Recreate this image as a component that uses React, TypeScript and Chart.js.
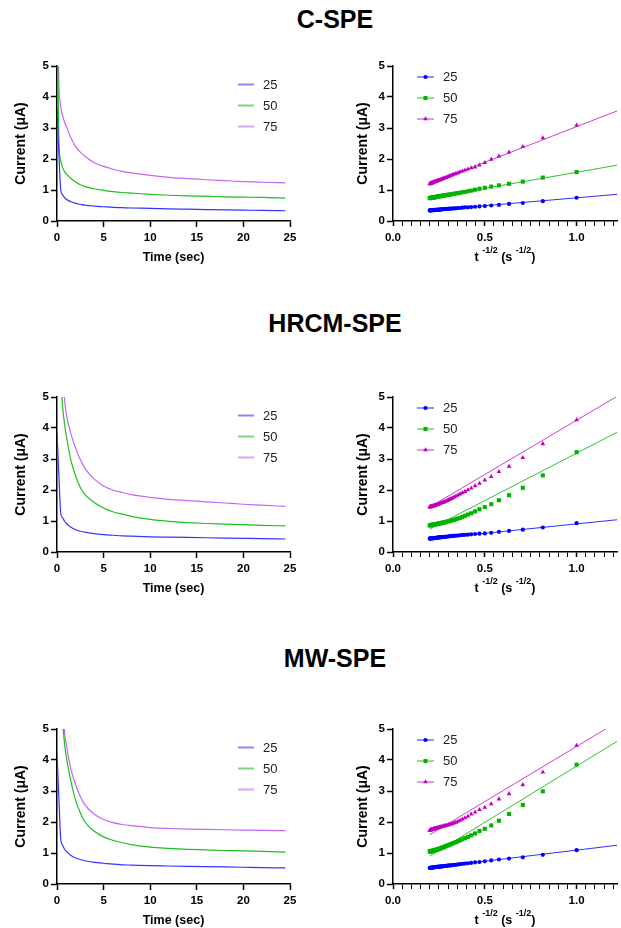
import React, { useEffect, useRef } from 'react';
import { Chart, registerables } from 'chart.js';

Chart.register(...registerables);

const FONT = '"Liberation Sans", Arial, Helvetica, sans-serif';

const panelTitles = ['C-SPE', 'HRCM-SPE', 'MW-SPE'];
const seriesLabels = ['25', '50', '75'];
const yTicks = [0, 1, 2, 3, 4, 5];

// ---------- left panels: current vs time ----------
const timeGrid = [0, 0.2, 0.4, 0.6, 0.8, 1, 1.5, 2, 2.5, 3, 4, 5, 6, 7, 8, 10, 12, 14, 16, 18, 20, 22, 24.5];

const cspeDecay25 = [3.6, 2.2, 1.0, 0.84, 0.76, 0.7, 0.62, 0.57, 0.54, 0.51, 0.48, 0.46, 0.44, 0.43, 0.42, 0.41, 0.39, 0.38, 0.37, 0.36, 0.35, 0.34, 0.33];
const cspeDecay50 = [7.0, 2.6, 1.95, 1.72, 1.6, 1.52, 1.37, 1.26, 1.17, 1.11, 1.04, 0.99, 0.95, 0.92, 0.9, 0.86, 0.83, 0.81, 0.8, 0.78, 0.77, 0.76, 0.74];
const cspeDecay75 = [7.5, 4.4, 3.7, 3.4, 3.2, 3.05, 2.68, 2.4, 2.22, 2.09, 1.88, 1.76, 1.67, 1.6, 1.55, 1.47, 1.41, 1.37, 1.33, 1.3, 1.27, 1.25, 1.23];

const hrcmDecay25 = [3.85, 2.5, 1.25, 1.1, 1.0, 0.92, 0.8, 0.72, 0.67, 0.64, 0.59, 0.56, 0.54, 0.52, 0.51, 0.49, 0.48, 0.47, 0.46, 0.45, 0.44, 0.43, 0.42];
const hrcmDecay50 = [9, 7, 5.6, 4.7, 4.15, 3.75, 2.95, 2.45, 2.08, 1.85, 1.6, 1.42, 1.3, 1.22, 1.15, 1.05, 0.99, 0.95, 0.92, 0.9, 0.88, 0.86, 0.84];
const hrcmDecay75 = [12, 9.5, 7.5, 6.0, 4.95, 4.45, 3.8, 3.35, 2.98, 2.7, 2.35, 2.13, 2.0, 1.92, 1.85, 1.76, 1.7, 1.66, 1.62, 1.58, 1.54, 1.51, 1.47];

const mwDecay25 = [4.2, 2.8, 1.45, 1.25, 1.13, 1.05, 0.92, 0.84, 0.79, 0.75, 0.7, 0.67, 0.64, 0.62, 0.61, 0.59, 0.58, 0.57, 0.56, 0.55, 0.54, 0.53, 0.52];
const mwDecay50 = [11, 8.5, 6.6, 5.3, 4.55, 4.1, 3.3, 2.7, 2.3, 2.0, 1.7, 1.52, 1.41, 1.33, 1.27, 1.19, 1.15, 1.12, 1.1, 1.08, 1.07, 1.05, 1.03];
const mwDecay75 = [13, 10, 8, 6.3, 4.95, 4.5, 3.7, 3.2, 2.82, 2.55, 2.25, 2.08, 1.98, 1.92, 1.88, 1.82, 1.79, 1.77, 1.76, 1.75, 1.74, 1.73, 1.72];

// ---------- right panels: current vs t^-1/2 ----------
const invSqrtTime = [1.0, 0.816, 0.707, 0.632, 0.577, 0.535, 0.5, 0.471, 0.447, 0.426, 0.408, 0.392, 0.378, 0.365, 0.354, 0.343, 0.333, 0.324, 0.316, 0.309, 0.302, 0.295, 0.289, 0.283, 0.277, 0.272, 0.267, 0.263, 0.258, 0.254, 0.25, 0.246, 0.243, 0.239, 0.236, 0.232, 0.229, 0.226, 0.224, 0.221, 0.218, 0.216, 0.213, 0.211, 0.209, 0.206, 0.204, 0.202, 0.2];

const cspeRoot25 = [0.75, 0.64, 0.58, 0.55, 0.52, 0.5, 0.48, 0.47, 0.46, 0.45, 0.44, 0.44, 0.43, 0.42, 0.42, 0.41, 0.41, 0.4, 0.4, 0.4, 0.39, 0.39, 0.39, 0.38, 0.38, 0.38, 0.38, 0.37, 0.37, 0.37, 0.37, 0.37, 0.36, 0.36, 0.36, 0.36, 0.36, 0.36, 0.35, 0.35, 0.35, 0.35, 0.35, 0.35, 0.35, 0.34, 0.34, 0.34, 0.34];
const cspeRoot50 = [1.58, 1.4, 1.27, 1.2, 1.15, 1.11, 1.07, 1.04, 1.01, 0.98, 0.96, 0.94, 0.93, 0.91, 0.9, 0.89, 0.88, 0.87, 0.86, 0.85, 0.85, 0.84, 0.83, 0.83, 0.82, 0.82, 0.81, 0.81, 0.8, 0.8, 0.79, 0.79, 0.79, 0.78, 0.78, 0.77, 0.77, 0.77, 0.76, 0.76, 0.76, 0.76, 0.75, 0.75, 0.75, 0.75, 0.74, 0.74, 0.74];
const cspeRoot75 = [3.09, 2.68, 2.4, 2.22, 2.09, 1.99, 1.88, 1.8, 1.74, 1.71, 1.67, 1.64, 1.61, 1.58, 1.55, 1.53, 1.51, 1.49, 1.47, 1.45, 1.43, 1.42, 1.4, 1.39, 1.38, 1.37, 1.35, 1.34, 1.33, 1.32, 1.32, 1.31, 1.3, 1.29, 1.28, 1.27, 1.27, 1.26, 1.26, 1.25, 1.24, 1.24, 1.23, 1.23, 1.22, 1.21, 1.21, 1.2, 1.2];

const hrcmRoot25 = [0.93, 0.79, 0.72, 0.68, 0.65, 0.62, 0.6, 0.59, 0.58, 0.57, 0.56, 0.55, 0.55, 0.54, 0.53, 0.53, 0.52, 0.52, 0.51, 0.51, 0.5, 0.5, 0.49, 0.49, 0.49, 0.48, 0.48, 0.48, 0.47, 0.47, 0.47, 0.47, 0.46, 0.46, 0.46, 0.46, 0.45, 0.45, 0.45, 0.45, 0.45, 0.44, 0.44, 0.44, 0.44, 0.44, 0.44, 0.43, 0.43];
const hrcmRoot50 = [3.22, 2.47, 2.07, 1.83, 1.67, 1.54, 1.45, 1.38, 1.31, 1.25, 1.21, 1.17, 1.13, 1.1, 1.08, 1.06, 1.04, 1.03, 1.01, 1.0, 0.99, 0.98, 0.97, 0.96, 0.95, 0.95, 0.94, 0.93, 0.93, 0.92, 0.92, 0.91, 0.91, 0.9, 0.9, 0.9, 0.89, 0.89, 0.89, 0.88, 0.88, 0.88, 0.88, 0.87, 0.87, 0.87, 0.87, 0.86, 0.86];
const hrcmRoot75 = [4.26, 3.49, 3.04, 2.76, 2.59, 2.43, 2.32, 2.21, 2.13, 2.06, 2.0, 1.95, 1.91, 1.87, 1.83, 1.8, 1.77, 1.74, 1.72, 1.7, 1.68, 1.66, 1.64, 1.63, 1.61, 1.6, 1.59, 1.58, 1.57, 1.56, 1.55, 1.54, 1.53, 1.52, 1.52, 1.51, 1.5, 1.5, 1.49, 1.49, 1.48, 1.48, 1.47, 1.47, 1.47, 1.46, 1.46, 1.45, 1.45];

const mwRoot25 = [1.09, 0.94, 0.86, 0.82, 0.79, 0.76, 0.73, 0.71, 0.7, 0.68, 0.67, 0.66, 0.65, 0.64, 0.63, 0.62, 0.62, 0.61, 0.6, 0.6, 0.59, 0.59, 0.58, 0.58, 0.58, 0.57, 0.57, 0.57, 0.56, 0.56, 0.56, 0.55, 0.55, 0.55, 0.55, 0.54, 0.54, 0.54, 0.54, 0.54, 0.53, 0.53, 0.53, 0.53, 0.53, 0.52, 0.52, 0.52, 0.52];
const mwRoot50 = [3.85, 2.99, 2.55, 2.26, 2.04, 1.89, 1.78, 1.71, 1.63, 1.57, 1.52, 1.48, 1.44, 1.41, 1.38, 1.35, 1.33, 1.31, 1.29, 1.27, 1.25, 1.24, 1.22, 1.21, 1.19, 1.18, 1.17, 1.16, 1.15, 1.14, 1.13, 1.12, 1.12, 1.11, 1.1, 1.1, 1.09, 1.09, 1.08, 1.08, 1.07, 1.07, 1.07, 1.06, 1.06, 1.06, 1.05, 1.05, 1.05];
const mwRoot75 = [4.47, 3.61, 3.2, 2.91, 2.74, 2.58, 2.47, 2.4, 2.32, 2.25, 2.18, 2.13, 2.09, 2.05, 2.02, 1.99, 1.97, 1.95, 1.93, 1.92, 1.91, 1.9, 1.89, 1.88, 1.87, 1.86, 1.85, 1.84, 1.84, 1.83, 1.82, 1.82, 1.81, 1.8, 1.8, 1.79, 1.79, 1.78, 1.78, 1.77, 1.77, 1.76, 1.76, 1.75, 1.75, 1.74, 1.74, 1.73, 1.73];

// linear fits: values at the two ends fitX
const fitX = [0.2, 1.22];
const cspeFit25 = [0.34, 0.86];
const cspeFit50 = [0.74, 1.8];
const cspeFit75 = [1.2, 3.55];
const hrcmFit25 = [0.42, 1.04];
const hrcmFit50 = [0.74, 3.86];
const hrcmFit75 = [1.45, 5.02];
const mwFit25 = [0.52, 1.25];
const mwFit50 = [0.9, 4.6];
const mwFit75 = [1.59, 5.22];

const decaySets = [
  [cspeDecay25, cspeDecay50, cspeDecay75],
  [hrcmDecay25, hrcmDecay50, hrcmDecay75],
  [mwDecay25, mwDecay50, mwDecay75],
];
const rootSets = [
  [cspeRoot25, cspeRoot50, cspeRoot75],
  [hrcmRoot25, hrcmRoot50, hrcmRoot75],
  [mwRoot25, mwRoot50, mwRoot75],
];
const fitSets = [
  [cspeFit25, cspeFit50, cspeFit75],
  [hrcmFit25, hrcmFit50, hrcmFit75],
  [mwFit25, mwFit50, mwFit75],
];

const decayColors = ['#3535ff', '#1fbf1f', '#c466f2'];
const rootColors = ['#0000ff', '#00b400', '#c000c0'];
const fitColors = ['#2f2fff', '#2cc42c', '#cc40cc'];
const markerStyles = ['circle', 'rect', 'triangle'];
const markerRadius = [2.1, 2.9, 2.7];

// ---------- layout ----------
const PLOT_TOPS = [66, 397, 729];
const PLOT_H = 155;
const PAD_TOP = 10;
const X_AXIS_H = 50;
const CANVAS_H = PAD_TOP + PLOT_H + X_AXIS_H;
const TITLE_TOPS = [7, 311, 646];

function drawMarker(ctx: CanvasRenderingContext2D, style: string, x: number, y: number, r: number, color: string) {
  ctx.fillStyle = color;
  ctx.beginPath();
  if (style === 'circle') {
    ctx.arc(x, y, r, 0, Math.PI * 2);
  } else if (style === 'rect') {
    const s = r * Math.SQRT1_2;
    ctx.rect(x - s, y - s, 2 * s, 2 * s);
  } else {
    let rad = 0;
    ctx.moveTo(x + Math.sin(rad) * r, y - Math.cos(rad) * r);
    rad += (2 * Math.PI) / 3;
    ctx.lineTo(x + Math.sin(rad) * r, y - Math.cos(rad) * r);
    rad += (2 * Math.PI) / 3;
    ctx.lineTo(x + Math.sin(rad) * r, y - Math.cos(rad) * r);
    ctx.closePath();
  }
  ctx.fill();
}

function decorPlugin(kind: 'decay' | 'root') {
  return {
    id: 'decor' + kind,
    afterDraw(chart: any) {
      const ctx: CanvasRenderingContext2D = chart.ctx;
      const a = chart.chartArea;
      ctx.save();
      ctx.fillStyle = '#000';
      // y axis title
      ctx.save();
      ctx.translate(a.left - (kind === 'decay' ? 36 : 29.5), (a.top + a.bottom) / 2);
      ctx.rotate(-Math.PI / 2);
      ctx.font = `bold 14px ${FONT}`;
      ctx.textAlign = 'center';
      ctx.textBaseline = 'middle';
      ctx.fillText('Current (μA)', 0, 0);
      ctx.restore();

      // x axis title
      const cx = (a.left + a.right) / 2;
      const base = a.bottom + 39.5;
      ctx.textBaseline = 'alphabetic';
      if (kind === 'decay') {
        ctx.font = `bold 12.5px ${FONT}`;
        ctx.textAlign = 'center';
        ctx.fillText('Time (sec)', cx, base);
      } else {
        const parts: [string, boolean][] = [['t ', false], ['-1/2', true], [' (s ', false], ['-1/2', true], [')', false]];
        const mainFont = `bold 12.5px ${FONT}`;
        const supFont = `bold 9px ${FONT}`;
        let total = 0;
        const widths = parts.map(([s, sup]) => {
          ctx.font = sup ? supFont : mainFont;
          const w = ctx.measureText(s).width;
          total += w;
          return w;
        });
        let x = cx - total / 2;
        ctx.textAlign = 'left';
        parts.forEach(([s, sup], i) => {
          ctx.font = sup ? supFont : mainFont;
          ctx.fillText(s, x, sup ? base - 8 : base);
          x += widths[i];
        });
      }

      // legend
      ctx.font = `13px ${FONT}`;
      ctx.textAlign = 'left';
      ctx.textBaseline = 'middle';
      for (let i = 0; i < 3; i++) {
        if (kind === 'decay') {
          const y = a.top + 18.5 + 21 * i;
          ctx.save();
          ctx.globalAlpha = 0.6;
          ctx.strokeStyle = decayColors[i];
          ctx.lineWidth = 2;
          ctx.beginPath();
          ctx.moveTo(a.left + 181, y);
          ctx.lineTo(a.left + 197, y);
          ctx.stroke();
          ctx.restore();
          ctx.fillStyle = '#222';
          ctx.fillText(seriesLabels[i], a.left + 206, y + 0.5);
        } else {
          const y = a.top + 11 + 21 * i;
          ctx.save();
          ctx.globalAlpha = 0.7;
          ctx.strokeStyle = fitColors[i];
          ctx.lineWidth = 1.5;
          ctx.beginPath();
          ctx.moveTo(a.left + 24, y);
          ctx.lineTo(a.left + 41, y);
          ctx.stroke();
          ctx.restore();
          drawMarker(ctx, markerStyles[i], a.left + 32.5, y, markerRadius[i], rootColors[i]);
          ctx.fillStyle = '#222';
          ctx.fillText(seriesLabels[i], a.left + 50, y + 0.5);
        }
      }
      ctx.restore();
    },
  };
}

function baseAxis() {
  return {
    border: { display: true, color: '#000', width: 1.5 },
    grid: { display: true, drawOnChartArea: false, drawTicks: true, tickLength: 6, tickColor: '#000', tickWidth: 1.5 },
  };
}

const tickFont = { family: FONT, size: 11.5, weight: 'bold' as const };

function yScale(width: number) {
  return {
    type: 'linear',
    min: yTicks[0],
    max: yTicks[yTicks.length - 1],
    ...baseAxis(),
    ticks: { stepSize: 1, padding: 2, color: '#000', font: tickFont },
    afterFit: (s: any) => {
      s.width = width;
    },
  };
}

function decayConfig(row: number): any {
  const sets = decaySets[row];
  return {
    type: 'line',
    data: {
      datasets: sets.map((vals, i) => ({
        label: seriesLabels[i],
        data: timeGrid.map((t, j) => ({ x: t, y: vals[j] })),
        borderColor: decayColors[i],
        borderWidth: 1.2,
        pointRadius: 0,
        fill: false,
        cubicInterpolationMode: 'monotone',
      })),
    },
    options: {
      responsive: false,
      maintainAspectRatio: false,
      animation: false,
      events: [],
      layout: { padding: { left: 0, right: 20, top: PAD_TOP, bottom: 0 } },
      plugins: { legend: { display: false }, tooltip: { enabled: false } },
      scales: {
        x: {
          type: 'linear',
          min: 0,
          max: 25,
          ...baseAxis(),
          ticks: { stepSize: 5, padding: 4, color: '#000', font: tickFont, maxRotation: 0 },
          afterFit: (s: any) => {
            s.height = X_AXIS_H;
          },
        },
        y: yScale(57),
      },
    },
    plugins: [decorPlugin('decay')],
  };
}

function isMajor(v: number) {
  return Math.abs(v * 2 - Math.round(v * 2)) < 1e-6;
}

function rootConfig(row: number): any {
  const sets = rootSets[row];
  const fits = fitSets[row];
  const pointSets = sets.map((vals, i) => ({
    label: seriesLabels[i],
    data: invSqrtTime.map((x, j) => ({ x, y: vals[j] })),
    showLine: false,
    pointStyle: markerStyles[i],
    pointRadius: markerRadius[i],
    pointBackgroundColor: rootColors[i],
    pointBorderColor: rootColors[i],
    pointBorderWidth: 0,
    borderColor: rootColors[i],
  }));
  const fitLines = fits.map((f, i) => ({
    label: seriesLabels[i] + ' fit',
    data: fitX.map((x, j) => ({ x, y: f[j] })),
    borderColor: fitColors[i],
    borderWidth: 1,
    pointRadius: 0,
    tension: 0,
    fill: false,
  }));
  return {
    type: 'line',
    data: { datasets: [...pointSets, ...fitLines] },
    options: {
      responsive: false,
      maintainAspectRatio: false,
      animation: false,
      events: [],
      layout: { padding: { left: 0, right: 0, top: PAD_TOP, bottom: 0 } },
      plugins: { legend: { display: false }, tooltip: { enabled: false } },
      scales: {
        x: {
          type: 'linear',
          min: 0,
          max: 1.22,
          border: { display: true, color: '#000', width: 1.5 },
          grid: {
            display: true,
            drawOnChartArea: false,
            drawTicks: true,
            tickLength: 5,
            tickColor: '#000',
            tickWidth: (c: any) => (c.tick && isMajor(c.tick.value) ? 1.5 : 1),
          },
          ticks: {
            stepSize: 0.05,
            includeBounds: false,
            autoSkip: false,
            maxRotation: 0,
            padding: 5,
            color: '#000',
            font: tickFont,
            callback: (v: number) => (isMajor(v) ? v.toFixed(1) : ''),
          },
          afterFit: (s: any) => {
            s.height = X_AXIS_H;
          },
        },
        y: yScale(83),
      },
    },
    plugins: [decorPlugin('root')],
  };
}

function ChartCanvas({ make, left, top, width, height }: { make: () => any; left: number; top: number; width: number; height: number }) {
  const ref = useRef<HTMLCanvasElement>(null);
  useEffect(() => {
    const chart = new Chart(ref.current as HTMLCanvasElement, make());
    return () => chart.destroy();
  }, []);
  return (
    <canvas
      ref={ref}
      width={width}
      height={height}
      style={{ position: 'absolute', left, top, width, height, display: 'block' }}
    />
  );
}

export default function App() {
  return (
    <div style={{ position: 'absolute', left: 0, top: 0, width: 621, height: 928, background: '#fff', overflow: 'hidden' }}>
      {panelTitles.map((t, r) => (
        <div
          key={t}
          style={{
            position: 'absolute',
            left: 135,
            width: 400,
            top: TITLE_TOPS[r],
            textAlign: 'center',
            font: `bold 25px ${FONT}`,
            lineHeight: '25px',
            color: '#000',
          }}
        >
          {t}
        </div>
      ))}
      {panelTitles.map((t, r) => (
        <React.Fragment key={'c' + t}>
          <ChartCanvas make={() => decayConfig(r)} left={0} top={PLOT_TOPS[r] - PAD_TOP} width={310} height={CANVAS_H} />
          <ChartCanvas make={() => rootConfig(r)} left={310} top={PLOT_TOPS[r] - PAD_TOP} width={311} height={CANVAS_H} />
        </React.Fragment>
      ))}
    </div>
  );
}
